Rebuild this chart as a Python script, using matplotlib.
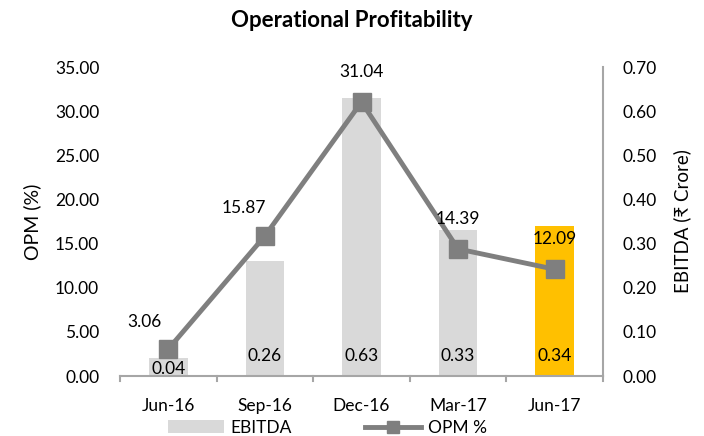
import matplotlib
matplotlib.use("Agg")
import matplotlib.pyplot as plt
from matplotlib.patches import Patch
from matplotlib.lines import Line2D

plt.rcParams['font.family'] = ['Lato', 'DejaVu Sans']

categories = ["Jun-16", "Sep-16", "Dec-16", "Mar-17", "Jun-17"]
ebitda = [0.04, 0.26, 0.63, 0.33, 0.34]
opm = [3.06, 15.87, 31.04, 14.39, 12.09]
left_ticks = [0, 5, 10, 15, 20, 25, 30, 35]
right_ticks = [0.0, 0.1, 0.2, 0.3, 0.4, 0.5, 0.6, 0.7]

bar_gray = "#D9D9D9"
bar_hi = "#FFC000"
line_col = "#7F7F7F"
spine_col = "#A6A6A6"
fs = 12.5

fig = plt.figure(figsize=(7.04, 4.36), dpi=100)
ax = fig.add_axes([0.1705, 0.1376, 0.686, 0.7087])
ax2 = ax.twinx()

x = list(range(len(categories)))
colors = [bar_gray] * (len(categories) - 1) + [bar_hi]

ax2.bar(x, ebitda, width=0.4, color=colors, zorder=1)
ax2.set_ylim(0, 0.7)
ax2.set_yticks(right_ticks)
ax2.set_yticklabels([f"{v:.2f}" for v in right_ticks], fontsize=fs)
ax2.set_ylabel("EBITDA (₹ Crore)", fontsize=13.5, labelpad=12)

ax.set_zorder(ax2.get_zorder() + 1)
ax.patch.set_visible(False)
ax.plot(x, opm, color=line_col, lw=3.5, marker='s', markersize=13, zorder=3)
ax.set_ylim(0, 35)
ax.set_xlim(-0.5, len(categories) - 0.5)
ax.set_yticks(left_ticks)
ax.set_yticklabels([f"{v:.2f}" for v in left_ticks], fontsize=fs)
ax.set_ylabel("OPM (%)", fontsize=14, labelpad=10)
ax.set_xticks(x)
ax.set_xticklabels(categories, fontsize=fs)
ax.tick_params(axis='x', length=0, pad=16)
ax.tick_params(axis='y', length=0, pad=15)
ax2.tick_params(axis='y', length=0, pad=14)

for b in [i - 0.5 for i in range(len(categories) + 1)]:
    ax.plot([b, b], [0, -0.6], color=spine_col, lw=1.5, clip_on=False, zorder=4)

for a in (ax, ax2):
    for s in ['top', 'left']:
        a.spines[s].set_visible(False)
ax.spines['right'].set_visible(False)
ax2.spines['bottom'].set_visible(False)
ax.spines['bottom'].set_color(spine_col)
ax.spines['bottom'].set_linewidth(1.5)
ax2.spines['right'].set_color(spine_col)
ax2.spines['right'].set_linewidth(1.5)

line_offsets = [(-17, 14), (-15, 14), (0, 16), (0, 16), (0, 16)]
for xi, v, off in zip(x, opm, line_offsets):
    ax.annotate(f"{v:.2f}", (xi, v), xytext=off, textcoords='offset points',
                ha='center', va='bottom', fontsize=fs, zorder=5)

for xi, v in zip(x, ebitda):
    dy = -1 if v < 0.1 else 9
    ax2.annotate(f"{v:.2f}", (xi, 0), xytext=(0, dy), textcoords='offset points',
                 ha='center', va='bottom', fontsize=fs, zorder=6)

fig.suptitle("Operational Profitability", fontsize=16, fontweight='bold', y=0.978)

handles = [Patch(facecolor=bar_gray, edgecolor='none'),
           Line2D([0], [0], color=line_col, lw=3.5, marker='s', markersize=9)]
fig.legend(handles, ["EBITDA", "OPM %"], loc='lower center', ncol=2,
           bbox_to_anchor=(0.465, -0.035), frameon=False, fontsize=fs,
           columnspacing=4.2, handlelength=3.2, handletextpad=0.4)

fig.savefig("out.png", dpi=100)
